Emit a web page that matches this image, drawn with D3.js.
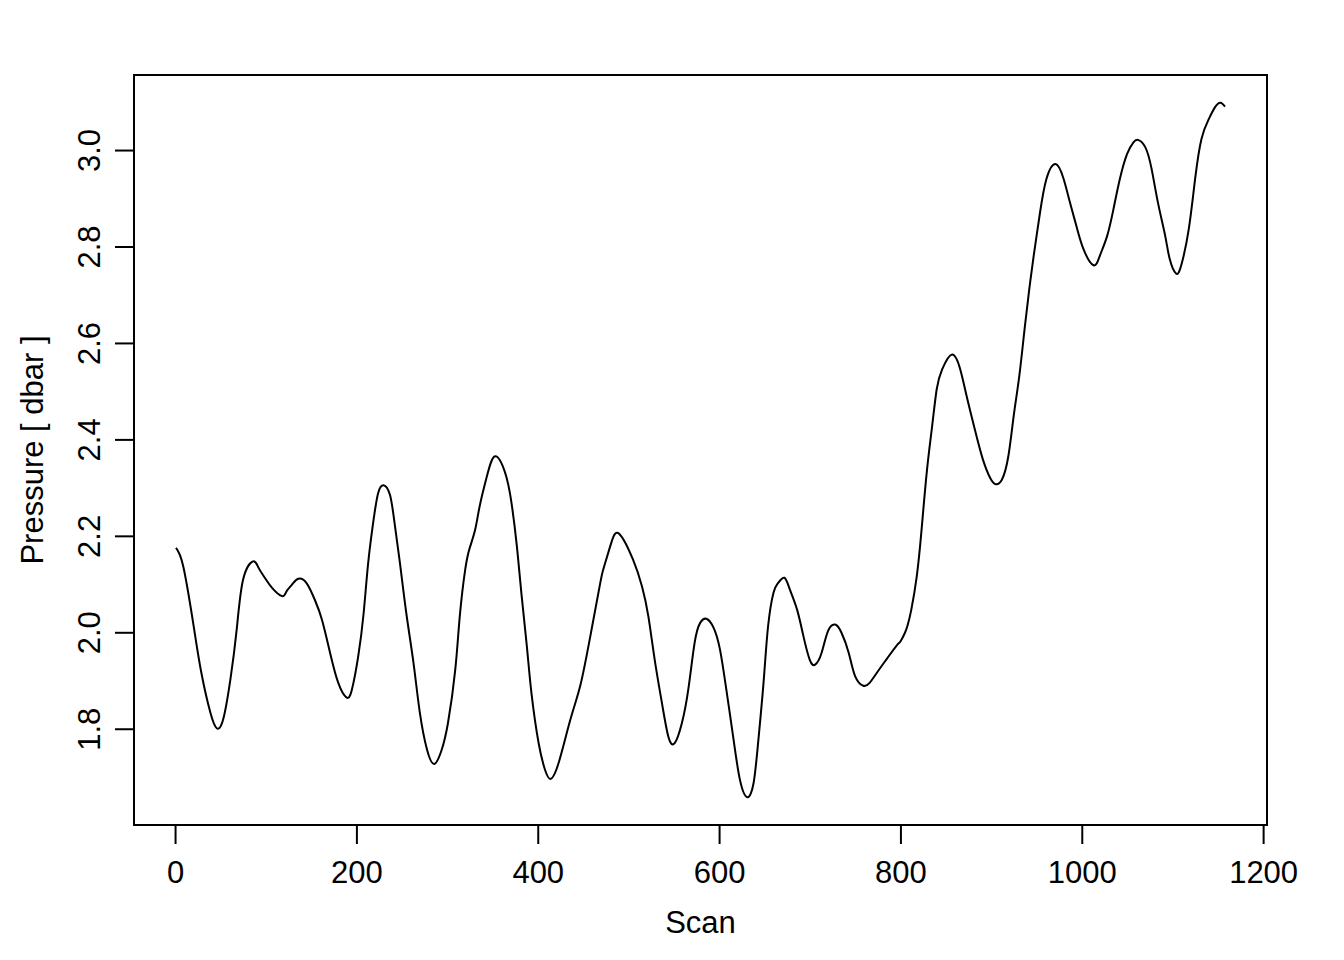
<!DOCTYPE html>
<html>
<head>
<meta charset="utf-8">
<script src="https://cdn.jsdelivr.net/npm/d3@7"></script>
<style>
  body { margin: 0; background: #fff; }
  svg text { font-family: "Liberation Sans", Arial, Helvetica, sans-serif; fill: #000; }
</style>
</head>
<body>
<div id="chart"></div>
<script>
// scan index and pressure
const scans = [
  1, 9, 20, 29, 39, 46, 53, 61, 68, 75, 86, 92, 99, 107, 118, 123, 129, 136, 145, 154,
  162, 171, 180, 189, 195, 202, 208, 213, 219, 224, 230, 237, 242, 248, 255, 263, 270, 278, 286, 294,
  301, 309, 314, 320, 325, 331, 336, 344, 353, 364, 371, 377, 382, 388, 393, 401, 408, 414, 423, 436,
  447, 458, 469, 473, 481, 490, 505, 515, 522, 529, 537, 544, 551, 559, 566, 573, 579, 586, 594, 601,
  608, 616, 623, 631, 638, 643, 649, 654, 660, 665, 672, 678, 686, 693, 700, 706, 713, 720, 728, 735,
  743, 750, 759, 766, 774, 785, 796, 800, 805, 808, 812, 818, 823, 829, 835, 840, 846, 857, 866, 873,
  882, 891, 899, 905, 912, 919, 925, 931, 937, 942, 947, 954, 961, 971, 980, 987, 994, 1002, 1013, 1020,
  1028, 1035, 1042, 1050, 1057, 1062, 1070, 1077, 1084, 1092, 1097, 1104, 1110, 1118, 1125, 1132, 1140, 1147, 1153, 1158
];
const pressure = [
  2.175, 2.137, 2.019, 1.916, 1.833, 1.801, 1.819, 1.902, 2.006, 2.109, 2.147, 2.134, 2.113, 2.092, 2.075, 2.085, 2.099, 2.111, 2.102, 2.068,
  2.026, 1.957, 1.895, 1.865, 1.881, 1.950, 2.040, 2.144, 2.234, 2.289, 2.305, 2.285, 2.228, 2.144, 2.040, 1.936, 1.833, 1.756, 1.727, 1.756,
  1.812, 1.922, 2.033, 2.130, 2.175, 2.213, 2.262, 2.324, 2.365, 2.331, 2.269, 2.178, 2.080, 1.971, 1.875, 1.770, 1.715, 1.696, 1.729, 1.819,
  1.890, 1.992, 2.103, 2.135, 2.185, 2.204, 2.151, 2.095, 2.033, 1.943, 1.853, 1.784, 1.770, 1.812, 1.881, 1.978, 2.019, 2.028, 2.009, 1.964,
  1.881, 1.777, 1.694, 1.658, 1.687, 1.770, 1.895, 2.012, 2.082, 2.102, 2.113, 2.089, 2.047, 1.992, 1.943, 1.933, 1.957, 2.002, 2.016, 1.999,
  1.957, 1.909, 1.889, 1.895, 1.916, 1.945, 1.973, 1.981, 1.999, 2.015, 2.047, 2.116, 2.206, 2.331, 2.428, 2.504, 2.545, 2.576, 2.545, 2.490,
  2.421, 2.358, 2.320, 2.307, 2.317, 2.365, 2.450, 2.530, 2.630, 2.710, 2.781, 2.871, 2.940, 2.971, 2.940, 2.891, 2.843, 2.794, 2.761, 2.781,
  2.822, 2.878, 2.940, 2.992, 3.016, 3.021, 3.006, 2.961, 2.891, 2.822, 2.774, 2.744, 2.763, 2.836, 2.940, 3.023, 3.064, 3.089, 3.098, 3.090
];
const xTicks = [0, 200, 400, 600, 800, 1000, 1200];
const yTicks = [1.8, 2.0, 2.2, 2.4, 2.6, 2.8, 3.0];

const width = 1344, height = 960;
const margin = {top: 75, right: 77, bottom: 135, left: 134};
const fontSize = 31;

const data = scans.map((s, i) => ({scan: s, p: pressure[i]}));

// pad the extent by 4% on each side, like base R graphics
function padded(ext) {
  const d = (ext[1] - ext[0]) * 0.04;
  return [ext[0] - d, ext[1] + d];
}

const x = d3.scaleLinear()
  .domain(padded(d3.extent(scans)))
  .range([margin.left, width - margin.right]);
const y = d3.scaleLinear()
  .domain(padded(d3.extent(pressure)))
  .range([height - margin.bottom, margin.top]);

const svg = d3.select("#chart").append("svg")
  .attr("width", width)
  .attr("height", height);

const line = d3.line()
  .x(d => x(d.scan))
  .y(d => y(d.p))
  .curve(d3.curveNatural);

svg.append("path")
  .datum(data)
  .attr("fill", "none")
  .attr("stroke", "#000")
  .attr("stroke-width", 2)
  .attr("stroke-linejoin", "round")
  .attr("d", line);

// x axis
const xAxis = svg.append("g")
  .attr("transform", `translate(0,${height - margin.bottom})`)
  .call(d3.axisBottom(x).tickValues(xTicks).tickFormat(d3.format("d"))
    .tickSize(19).tickSizeOuter(0).tickPadding(17));
xAxis.select(".domain").remove();
xAxis.append("line")
  .attr("x1", x(xTicks[0])).attr("x2", x(xTicks[xTicks.length - 1]))
  .attr("stroke", "#000").attr("stroke-width", 2);
xAxis.selectAll(".tick line").attr("stroke-width", 2);
xAxis.selectAll(".tick text").style("font-size", fontSize + "px");

// y axis, labels rotated parallel to the axis
const yAxis = svg.append("g")
  .attr("transform", `translate(${margin.left},0)`)
  .call(d3.axisLeft(y).tickValues(yTicks).tickFormat(d3.format(".1f"))
    .tickSize(19).tickSizeOuter(0));
yAxis.select(".domain").remove();
yAxis.selectAll(".tick line").attr("stroke-width", 2);
yAxis.selectAll(".tick text")
  .attr("x", null).attr("dy", null)
  .attr("transform", "translate(-34,0) rotate(-90)")
  .attr("text-anchor", "middle")
  .style("font-size", fontSize + "px");

// plot box
svg.append("rect")
  .attr("x", margin.left).attr("y", margin.top)
  .attr("width", width - margin.left - margin.right)
  .attr("height", height - margin.top - margin.bottom)
  .attr("fill", "none").attr("stroke", "#000").attr("stroke-width", 2);

svg.append("text")
  .attr("x", (margin.left + width - margin.right) / 2)
  .attr("y", 933)
  .attr("text-anchor", "middle")
  .style("font-size", fontSize + "px")
  .text("Scan");

svg.append("text")
  .attr("transform", `translate(43,${(margin.top + height - margin.bottom) / 2}) rotate(-90)`)
  .attr("text-anchor", "middle")
  .style("font-size", fontSize + "px")
  .text("Pressure [ dbar ]");
</script>
</body>
</html>
